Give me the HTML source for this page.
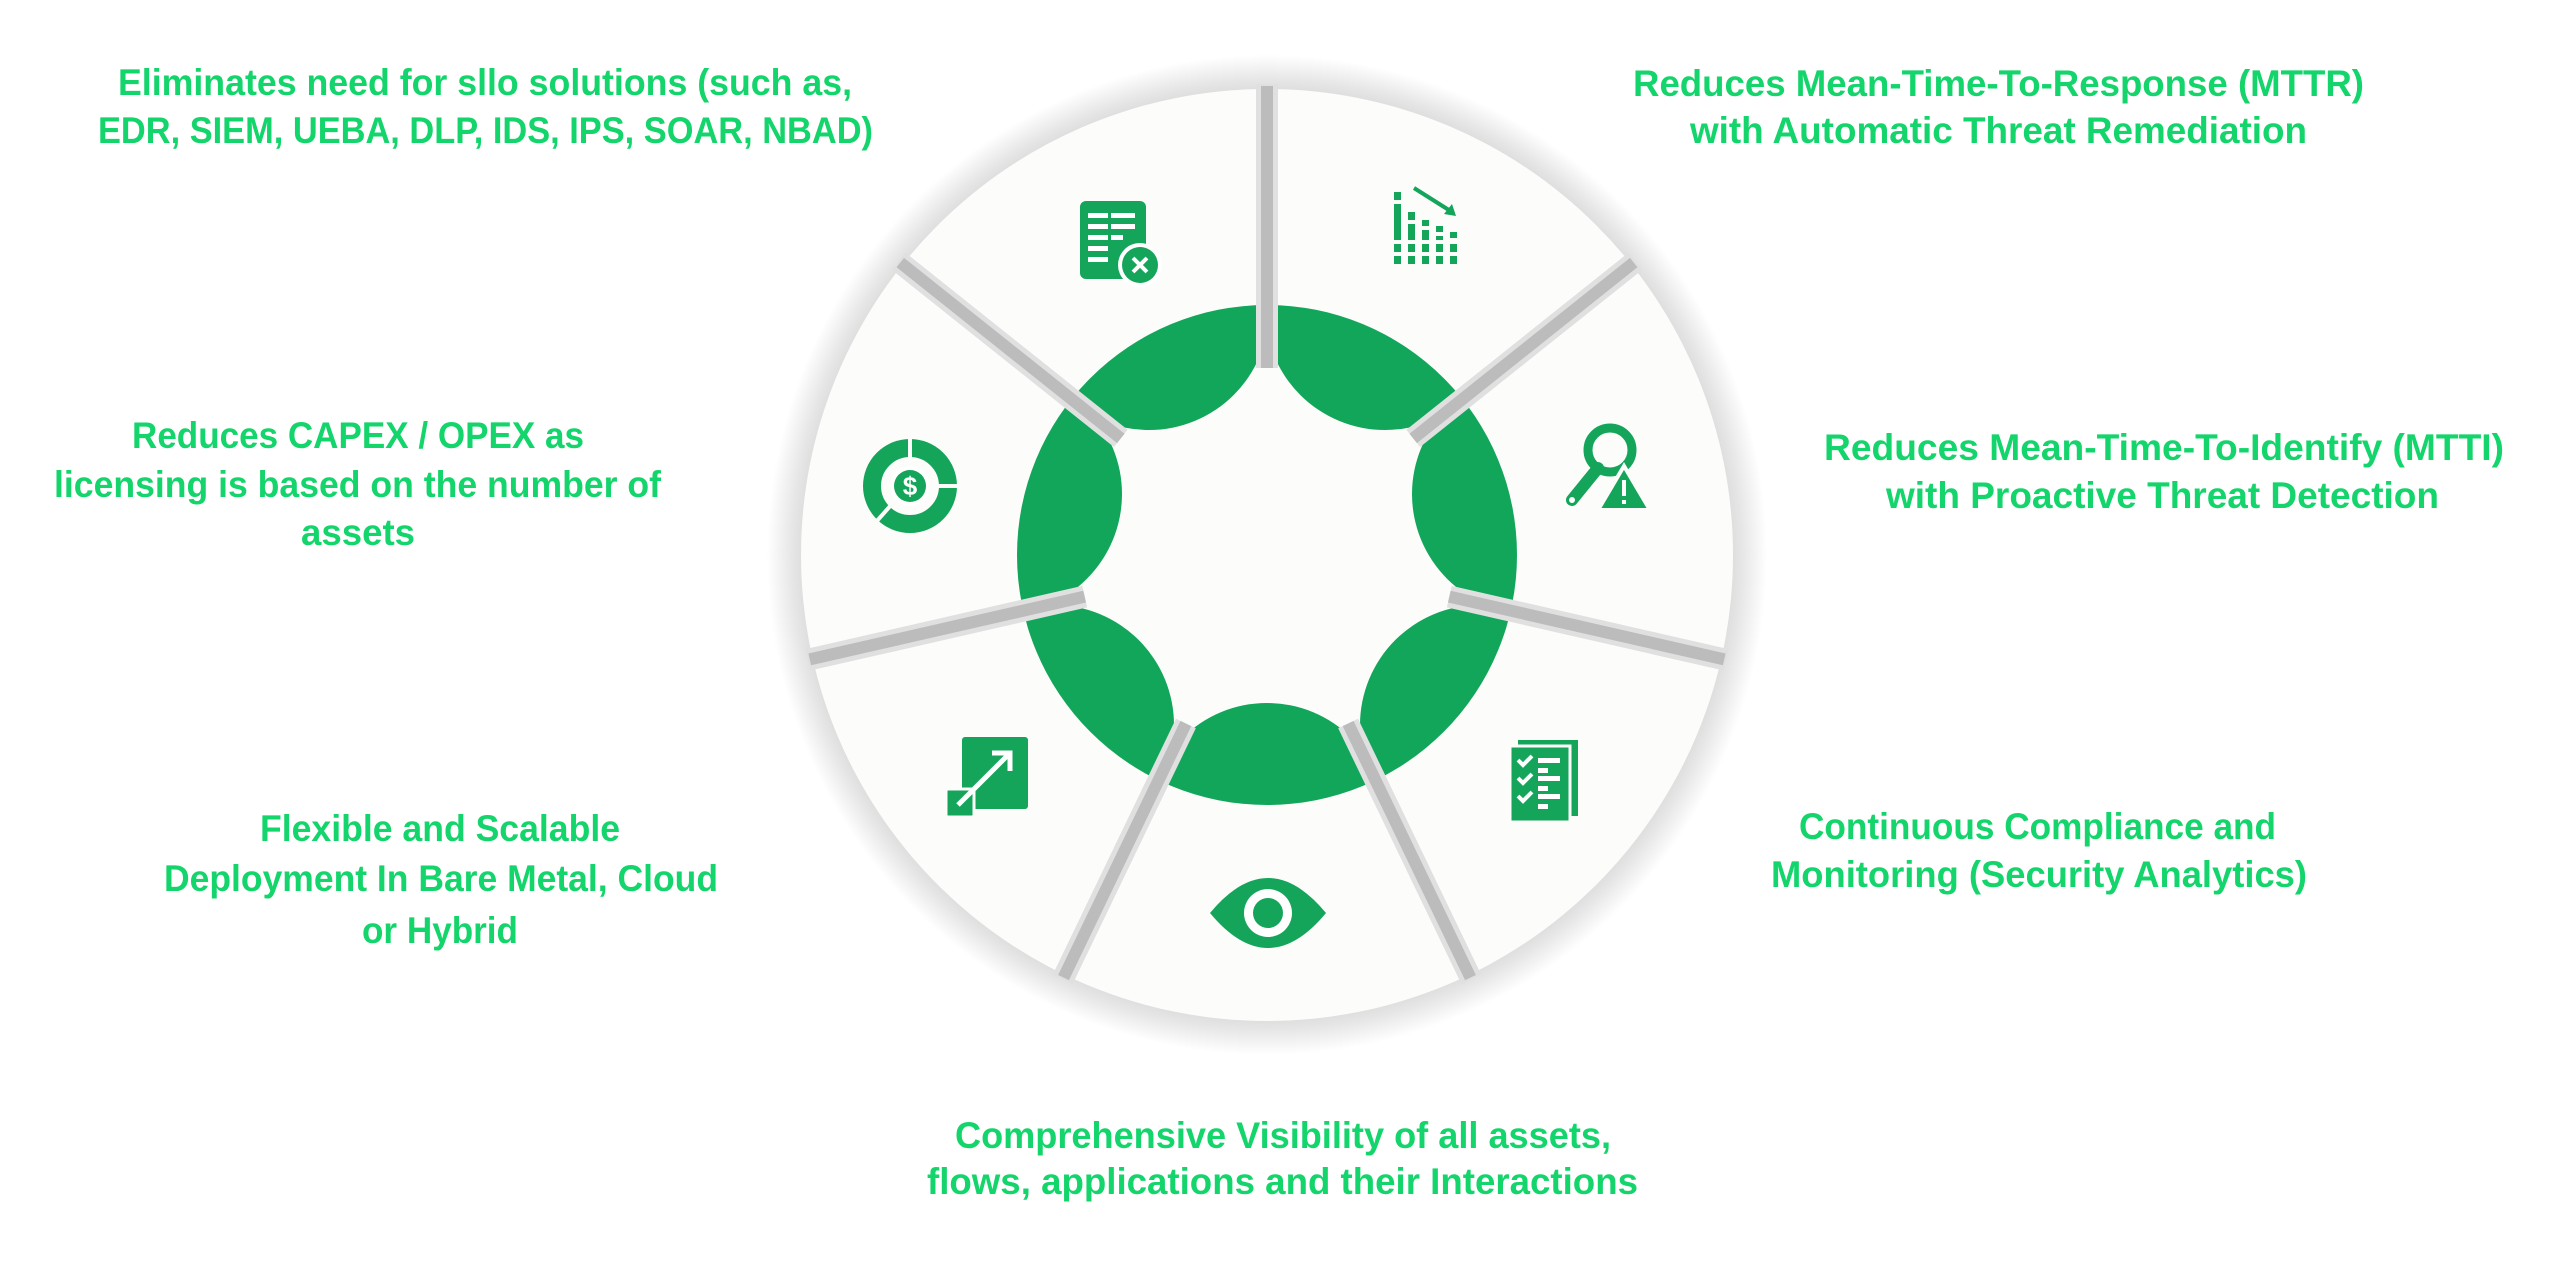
<!DOCTYPE html>
<html><head><meta charset="utf-8"><style>
html,body{margin:0;padding:0;background:#fff;}
svg{display:block}
text{font-family:"Liberation Sans",sans-serif;font-weight:bold;fill:#14d56b;font-size:37px}
</style></head><body>
<svg width="2560" height="1280" viewBox="0 0 2560 1280" xmlns="http://www.w3.org/2000/svg">
<defs>
<radialGradient id="halo" cx="1267" cy="555" r="500" gradientUnits="userSpaceOnUse">
<stop offset="0.90" stop-color="#d2d2d2"/>
<stop offset="0.95" stop-color="#e6e6e6"/>
<stop offset="1" stop-color="#ffffff"/>
</radialGradient>
<clipPath id="ring"><circle cx="1267" cy="555" r="250"/></clipPath>
</defs>
<rect width="2560" height="1280" fill="#fff"/>
<circle cx="1267" cy="555" r="500" fill="url(#halo)"/>
<circle cx="1267" cy="555" r="466" fill="#fcfcfa"/>
<!-- green petals -->
<g clip-path="url(#ring)" fill="#12a65a">
<circle cx="1385" cy="310" r="120"/>
<circle cx="1532" cy="494" r="120"/>
<circle cx="1480" cy="725" r="120"/>
<circle cx="1267" cy="823" r="120"/>
<circle cx="1054" cy="725" r="120"/>
<circle cx="1002" cy="494" r="120"/>
<circle cx="1149" cy="310" r="120"/>
</g>
<!-- separators -->
<g stroke-linecap="butt">
<g id="sep"><line x1="1267" y1="368" x2="1267" y2="84" stroke="#e0e0e0" stroke-width="22"/><line x1="1267" y1="368" x2="1267" y2="86" stroke="#bcbcbc" stroke-width="12"/></g>
<use href="#sep" transform="rotate(51.43 1267 555)"/>
<use href="#sep" transform="rotate(102.86 1267 555)"/>
<use href="#sep" transform="rotate(154.29 1267 555)"/>
<use href="#sep" transform="rotate(205.71 1267 555)"/>
<use href="#sep" transform="rotate(257.14 1267 555)"/>
<use href="#sep" transform="rotate(308.57 1267 555)"/>
</g>
<!-- icons -->
<g fill="#14a55a">
<g transform="translate(1120,241)">
<rect x="-40" y="-40" width="66" height="78" rx="6"/>
<g fill="#fff"><rect x="-32" y="-28" width="20" height="5"/><rect x="-9" y="-28" width="24" height="5"/><rect x="-32" y="-17" width="20" height="5"/><rect x="-9" y="-17" width="24" height="5"/><rect x="-32" y="-6" width="20" height="5"/><rect x="-9" y="-6" width="12" height="5"/><rect x="-32" y="5" width="20" height="5"/><rect x="-32" y="16" width="20" height="5"/></g>
<circle cx="20" cy="24" r="22" fill="#fff"/><circle cx="20" cy="24" r="18"/>
<path d="M13 17 L27 31 M27 17 L13 31" stroke="#fff" stroke-width="4"/>
</g>
<g transform="translate(1430,228)">
<rect x="-36" y="-36" width="7" height="8"/><rect x="-36" y="-24" width="7" height="60"/>
<rect x="-22" y="-16" width="7" height="8"/><rect x="-22" y="-4" width="7" height="40"/>
<rect x="-8" y="-8" width="7" height="6"/><rect x="-8" y="2" width="7" height="34"/>
<rect x="6" y="-2" width="7" height="6"/><rect x="6" y="8" width="7" height="28"/>
<rect x="20" y="4" width="7" height="6"/><rect x="20" y="14" width="7" height="22"/>
<rect x="-40" y="12" width="70" height="4" fill="#fcfcfa"/><rect x="-40" y="24" width="70" height="4" fill="#fcfcfa"/>
<path d="M-16 -40 L22 -16" stroke="#14a55a" stroke-width="4"/><path d="M26 -12 L14 -14 L22 -24 Z"/>
</g>
<g transform="translate(1608,474)">
<circle cx="2" cy="-24" r="22" fill="none" stroke="#14a55a" stroke-width="9"/>
<path d="M-10 -6 L-36 26" stroke="#14a55a" stroke-width="12" stroke-linecap="round"/>
<circle cx="-36" cy="26" r="3" fill="#fff"/>
<path d="M16 -8 L42 36 L-10 36 Z" stroke="#fcfcfa" stroke-width="4"/>
<rect x="14" y="6" width="4" height="16" fill="#fff"/><rect x="14" y="26" width="4" height="4" fill="#fff"/>
</g>
<g transform="translate(1544,780)">
<rect x="-26" y="-40" width="60" height="76"/>
<rect x="-34" y="-34" width="60" height="76" stroke="#fcfcfa" stroke-width="3"/>
<g stroke="#fff" stroke-width="4" fill="none"><path d="M-26 -20 l5 5 l9 -9"/><path d="M-26 -2 l5 5 l9 -9"/><path d="M-26 16 l5 5 l9 -9"/></g>
<g fill="#fff"><rect x="-6" y="-22" width="22" height="5"/><rect x="-6" y="-12" width="10" height="5"/><rect x="-6" y="-4" width="22" height="5"/><rect x="-6" y="6" width="10" height="5"/><rect x="-6" y="14" width="22" height="5"/><rect x="-6" y="24" width="10" height="5"/></g>
</g>
<g transform="translate(1268,913)">
<path d="M-58 0 Q0 -70 58 0 Q0 70 -58 0 Z"/>
<circle r="24" fill="#fff"/><circle r="15"/>
</g>
<g transform="translate(988,777)">
<rect x="-26" y="-40" width="66" height="72" rx="3"/>
<rect x="-42" y="12" width="28" height="28" rx="2" stroke="#fcfcfa" stroke-width="3"/>
<path d="M-30 28 L20 -22" stroke="#fff" stroke-width="5"/>
<path d="M4 -24 L22 -24 L22 -6" stroke="#fff" stroke-width="5" fill="none"/>
</g>
<g transform="translate(910,486)">
<circle r="38" fill="none" stroke="#14a55a" stroke-width="18"/>
<path d="M0 -48 L0 -26 M26 0 L48 0 M-18 18 L-34 36" stroke="#fcfcfa" stroke-width="4"/>
<circle r="20" fill="#fff"/><circle r="16"/>
<text x="0" y="9" text-anchor="middle" style="fill:#fff;font-size:26px">$</text>
</g>
</g>
<!-- labels -->
<text x="118" y="95" textLength="734" lengthAdjust="spacingAndGlyphs">Eliminates need for sllo solutions (such as,</text>
<text x="98" y="143" textLength="775" lengthAdjust="spacingAndGlyphs">EDR, SIEM, UEBA, DLP, IDS, IPS, SOAR, NBAD)</text>
<text x="1633" y="96" textLength="731" lengthAdjust="spacingAndGlyphs">Reduces Mean-Time-To-Response (MTTR)</text>
<text x="1690" y="143" textLength="617" lengthAdjust="spacingAndGlyphs">with Automatic Threat Remediation</text>
<text x="132" y="448" textLength="452" lengthAdjust="spacingAndGlyphs">Reduces CAPEX / OPEX as</text>
<text x="54" y="497" textLength="607" lengthAdjust="spacingAndGlyphs">licensing is based on the number of</text>
<text x="301" y="545" textLength="114" lengthAdjust="spacingAndGlyphs">assets</text>
<text x="1824" y="460" textLength="680" lengthAdjust="spacingAndGlyphs">Reduces Mean-Time-To-Identify (MTTI)</text>
<text x="1886" y="508" textLength="553" lengthAdjust="spacingAndGlyphs">with Proactive Threat Detection</text>
<text x="260" y="841" textLength="360" lengthAdjust="spacingAndGlyphs">Flexible and Scalable</text>
<text x="164" y="891" textLength="554" lengthAdjust="spacingAndGlyphs">Deployment In Bare Metal, Cloud</text>
<text x="362" y="943" textLength="156" lengthAdjust="spacingAndGlyphs">or Hybrid</text>
<text x="1799" y="839" textLength="477" lengthAdjust="spacingAndGlyphs">Continuous Compliance and</text>
<text x="1771" y="887" textLength="536" lengthAdjust="spacingAndGlyphs">Monitoring (Security Analytics)</text>
<text x="955" y="1148" textLength="656" lengthAdjust="spacingAndGlyphs">Comprehensive Visibility of all assets,</text>
<text x="927" y="1194" textLength="711" lengthAdjust="spacingAndGlyphs">flows, applications and their Interactions</text>
</svg>
</body></html>
